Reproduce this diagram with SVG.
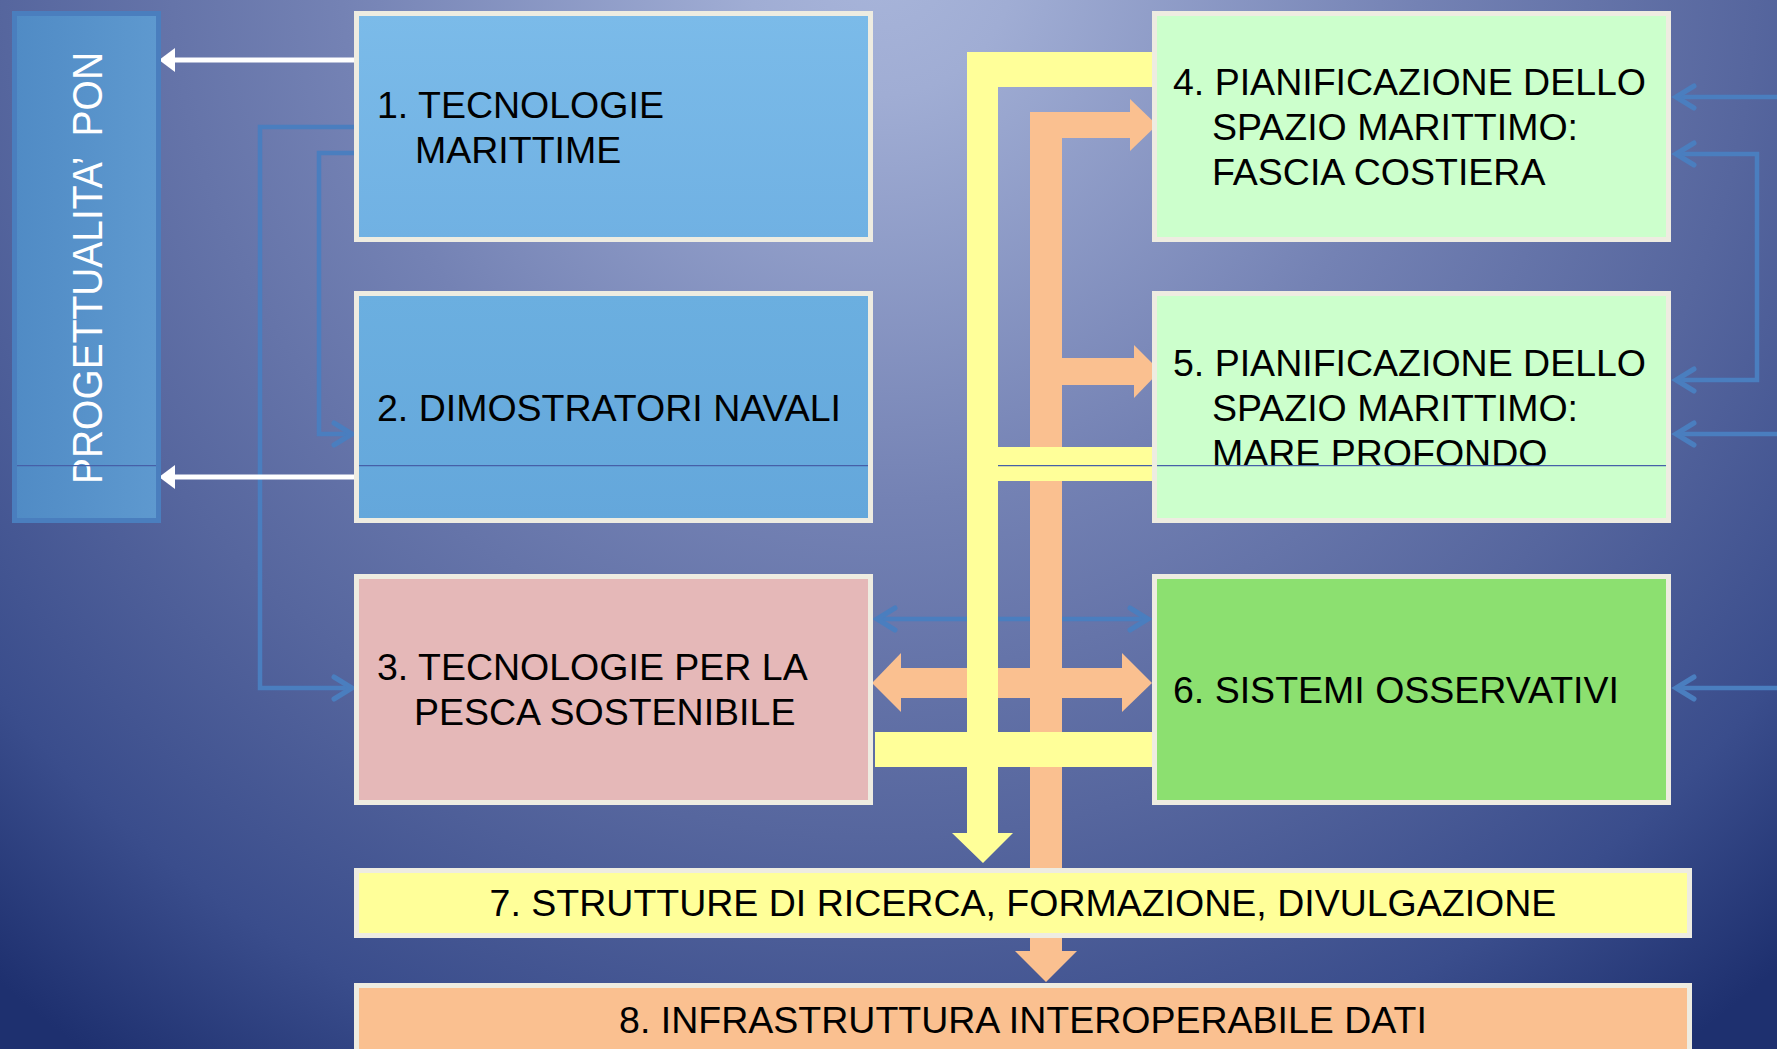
<svg xmlns="http://www.w3.org/2000/svg" width="1777" height="1049" viewBox="0 0 1777 1049">
<defs>
<radialGradient id="bg" gradientUnits="userSpaceOnUse" cx="880" cy="-40" r="1350">
<stop offset="0" stop-color="#A8B5DA"/>
<stop offset="0.1" stop-color="#A0ADD4"/>
<stop offset="0.4" stop-color="#7482B4"/>
<stop offset="0.65" stop-color="#56669E"/>
<stop offset="0.85" stop-color="#3A4D8C"/>
<stop offset="1" stop-color="#1E306F"/>
</radialGradient>
<linearGradient id="ponfill" x1="0" y1="0" x2="1" y2="0">
<stop offset="0" stop-color="#508BC5"/>
<stop offset="1" stop-color="#5E99CF"/>
</linearGradient>
<linearGradient id="b1fill" x1="0" y1="0" x2="0" y2="1">
<stop offset="0" stop-color="#7BBBE9"/>
<stop offset="1" stop-color="#70B1E3"/>
</linearGradient>
<linearGradient id="b2fill" x1="0" y1="0" x2="0" y2="1">
<stop offset="0" stop-color="#6BAFE0"/>
<stop offset="1" stop-color="#64A7DB"/>
</linearGradient>
</defs>
<style>
.box{stroke:#EEECE1;stroke-width:5}
.lbl{font-family:"Liberation Sans",Arial,sans-serif;font-size:37.5px;fill:#000}
.blue{fill:none;stroke:#4A7EBF;stroke-width:4.5;stroke-linejoin:miter}
.chev{fill:none;stroke:#4A7EBF;stroke-width:5;stroke-linecap:round;stroke-linejoin:miter}
.white{fill:none;stroke:#FFFFFF;stroke-width:5}
.yel{fill:#FFFF99}
.ora{fill:#FAC090}
.thin{stroke:#4660A8;stroke-width:1.3}
</style>
<rect x="0" y="0" width="1777" height="1049" fill="url(#bg)"/>

<g id="connectors">
<path class="blue" d="M354,127 H260 V688 H350"/>
<path class="chev" d="M334,677 L352,688 L334,699"/>
<path class="blue" d="M354,153 H319 V434 H350"/>
<path class="chev" d="M334,423 L352,434 L334,445"/>
<path class="blue" d="M1777,97 H1678"/>
<path class="chev" d="M1694,86 L1676,97 L1694,108"/>
<path class="blue" d="M1678,154 H1757 V380 H1678"/>
<path class="chev" d="M1694,143 L1676,154 L1694,165"/>
<path class="chev" d="M1694,369 L1676,380 L1694,391"/>
<path class="blue" d="M1777,434 H1678"/>
<path class="chev" d="M1694,423 L1676,434 L1694,445"/>
<path class="blue" d="M1777,688 H1678"/>
<path class="chev" d="M1694,677 L1676,688 L1694,699"/>
<path class="blue" d="M877,619 H1148"/>
<path class="chev" d="M895,608 L877,619 L895,630"/>
<path class="chev" d="M1130,608 L1148,619 L1130,630"/>
<path class="white" d="M354,60 H172"/>
<polygon fill="#FFFFFF" points="159,60 175,48 175,72"/>
<path class="white" d="M354,477 H172"/>
<polygon fill="#FFFFFF" points="159,477 175,465 175,489"/>
<rect class="ora" x="1030" y="112" width="32" height="840"/>
<rect class="ora" x="1030" y="112" width="101" height="26"/>
<polygon class="ora" points="1130,99 1157,125 1130,151"/>
<rect class="ora" x="1062" y="358" width="73" height="27"/>
<polygon class="ora" points="1134,345 1160,371 1134,398"/>
<rect class="ora" x="900" y="668" width="223" height="30"/>
<polygon class="ora" points="901,653 872,683 901,712"/>
<polygon class="ora" points="1122,653 1152,683 1122,712"/>
<polygon class="ora" points="1015,951 1077,951 1046,982"/>
<polygon class="yel" points="1153,52 967,52 967,833 952,833 983,863 1013,833 998,833 998,87 1153,87"/>
<rect class="yel" x="967" y="447" width="186" height="34"/>
<rect class="yel" x="875" y="732" width="280" height="35"/>
<line class="thin" x1="998" y1="465.6" x2="1153" y2="465.6"/>
</g>

<g id="pon">
<rect x="14.5" y="13.5" width="144" height="507" fill="url(#ponfill)" stroke="#4A7EBE" stroke-width="5"/>
<text transform="translate(102,484) rotate(-90)" xml:space="preserve" font-family="'Liberation Sans',Arial,sans-serif" font-size="42" fill="#FFFFFF" textLength="432" lengthAdjust="spacingAndGlyphs">PROGETTUALITA’  PON</text>
<line class="thin" x1="17" y1="465.6" x2="156" y2="465.6"/>
</g>

<g id="n1">
<rect class="box" x="356.5" y="13.5" width="514" height="226" fill="url(#b1fill)"/>
<text class="lbl" x="377" y="118">1. TECNOLOGIE</text>
<text class="lbl" x="415" y="163">MARITTIME</text>
</g>

<g id="n2">
<rect class="box" x="356.5" y="293.5" width="514" height="227" fill="url(#b2fill)"/>
<text class="lbl" x="377" y="421">2. DIMOSTRATORI NAVALI</text>
<line class="thin" x1="359" y1="465.6" x2="868" y2="465.6"/>
</g>

<g id="n3">
<rect class="box" x="356.5" y="576.5" width="514" height="226" fill="#E5B8B8"/>
<text class="lbl" x="377" y="680">3. TECNOLOGIE PER LA</text>
<text class="lbl" x="414" y="725">PESCA SOSTENIBILE</text>
</g>

<g id="n4">
<rect class="box" x="1154.5" y="13.5" width="514" height="226" fill="#CCFFCC"/>
<text class="lbl" x="1173" y="95">4. PIANIFICAZIONE DELLO</text>
<text class="lbl" x="1212" y="140">SPAZIO MARITTIMO:</text>
<text class="lbl" x="1212" y="185">FASCIA COSTIERA</text>
</g>

<g id="n5">
<rect class="box" x="1154.5" y="293.5" width="514" height="227" fill="#CCFFCC"/>
<text class="lbl" x="1173" y="375.5">5. PIANIFICAZIONE DELLO</text>
<text class="lbl" x="1212" y="420.5">SPAZIO MARITTIMO:</text>
<text class="lbl" x="1212" y="465.5">MARE PROFONDO</text>
<line class="thin" x1="1157" y1="465.6" x2="1666" y2="465.6"/>
</g>

<g id="n6">
<rect class="box" x="1154.5" y="576.5" width="514" height="226" fill="#8CE070"/>
<text class="lbl" x="1173" y="703">6. SISTEMI OSSERVATIVI</text>
</g>

<g id="n7">
<rect class="box" x="356.5" y="870.5" width="1333" height="65" fill="#FFFF99"/>
<text class="lbl" x="1023" y="916" text-anchor="middle">7. STRUTTURE DI RICERCA, FORMAZIONE, DIVULGAZIONE</text>
</g>

<g id="n8">
<rect class="box" x="356.5" y="985.5" width="1333" height="80" fill="#FAC090"/>
<text class="lbl" x="1023" y="1033" text-anchor="middle">8. INFRASTRUTTURA INTEROPERABILE DATI</text>
</g>
</svg>
